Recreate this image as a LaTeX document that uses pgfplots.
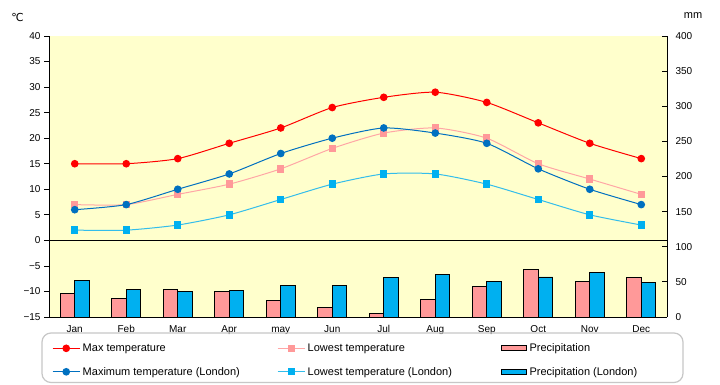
\documentclass[border=0pt]{standalone}
\usepackage{pgfplots}
\pgfplotsset{compat=1.18}
\usepackage{fontspec}
\setmainfont{Liberation Sans}
\newfontfamily\symfont{DejaVu Sans}
\definecolor{bgyellow}{HTML}{FFFFCC}
\definecolor{tred}{HTML}{FF0000}
\definecolor{tpink}{HTML}{FF9999}
\definecolor{tpinkline}{HTML}{FFA6A6}
\definecolor{lblue}{HTML}{0070C0}
\definecolor{lcyan}{HTML}{00B0F0}
\definecolor{lcyanline}{HTML}{33BDEB}
\pgfplotsset{
  lineleg/.style={legend image code/.code={\draw[mark repeat=2,mark phase=2,##1] plot coordinates {(0pt,0pt) (13.5pt,0pt) (27pt,0pt)};}},
  barleg/.style={legend image code/.code={\draw[##1] (0pt,-2.5pt) rectangle (25pt,2.5pt);}},
}
\begin{document}
\begin{tikzpicture}[x=1pt,y=1pt]
\useasboundingbox (0,0) rectangle (720,385);
\fill[white] (0,0) rectangle (720,385);
\begin{axis}[
  at={(49pt,68pt)}, anchor=south west,
  scale only axis, width=618pt, height=281pt,
  xmin=-0.5, xmax=11.5, ymin=-15, ymax=40,
  axis background/.style={fill=bgyellow},
  axis x line*=bottom, axis y line*=left,
  axis line style={black, line width=0.9pt, -},
  xtick={0,...,11},
  xticklabels={Jan,Feb,Mar,Apr,may,Jun,Jul,Aug,Sep,Oct,Nov,Dec},
  x tick style={draw=none},
  ytick={-15,-10,...,40},
  yticklabels={−15,−10,−5,0,5,10,15,20,25,30,35,40},
  y tick style={black, line width=0.8pt},
  tick align=outside, major tick length=5pt,
  tick label style={font=\fontsize{10}{12}\selectfont},
  xticklabel style={text height=1.6ex, text depth=0.4ex, yshift=1pt},
  extra y ticks={0}, extra y tick labels={},
  extra y tick style={grid=major, major grid style={black, line width=0.9pt}},
  every axis plot/.append style={tension=0.4},
]
\addplot[tred, line width=1pt, smooth, mark=*, mark size=3.3pt, mark options={fill=tred, draw=tred}]
  coordinates {(0,15)(1,15)(2,16)(3,19)(4,22)(5,26)(6,28)(7,29)(8,27)(9,23)(10,19)(11,16)};
\addplot[tpinkline, line width=1pt, smooth, mark=square*, mark size=3.2pt, mark options={fill=tpink, draw=tpink}]
  coordinates {(0,7)(1,7)(2,9)(3,11)(4,14)(5,18)(6,21)(7,22)(8,20)(9,15)(10,12)(11,9)};
\addplot[lblue, line width=1pt, smooth, mark=*, mark size=3.3pt, mark options={fill=lblue, draw=lblue}]
  coordinates {(0,6)(1,7)(2,10)(3,13)(4,17)(5,20)(6,22)(7,21)(8,19)(9,14)(10,10)(11,7)};
\addplot[lcyanline, line width=1pt, smooth, mark=square*, mark size=3.2pt, mark options={fill=lcyan, draw=lcyan}]
  coordinates {(0,2)(1,2)(2,3)(3,5)(4,8)(5,11)(6,13)(7,13)(8,11)(9,8)(10,5)(11,3)};
\end{axis}
\begin{axis}[
  at={(49pt,68pt)}, anchor=south west,
  scale only axis, width=618pt, height=281pt,
  xmin=-0.5, xmax=11.5, ymin=0, ymax=400,
  axis x line=none, axis y line*=right,
  axis line style={black, line width=0.9pt, -},
  ytick={0,50,...,400},
  /pgf/number format/assume math mode=true,
  y tick style={black, line width=0.8pt},
  tick align=inside, major tick length=5pt,
  yticklabel style={font=\fontsize{10}{12}\selectfont, xshift=5pt},
  legend columns=3, legend cell align=left,
  legend style={at={(0.0049,-0.085)}, anchor=north west, draw=none, fill=none,
    font=\fontsize{11}{13}\selectfont, inner sep=0pt, row sep=9pt, column sep=0pt,
    nodes={inner sep=2.5pt}},
]
\addlegendimage{lineleg, tred, line width=1pt, mark=*, mark size=3.3pt, mark options={fill=tred, draw=tred}}
\addlegendentry{\makebox[192pt][l]{Max temperature}}
\addlegendimage{lineleg, tpinkline, line width=1pt, mark=square*, mark size=3.2pt, mark options={fill=tpink, draw=tpink}}
\addlegendentry{\makebox[191pt][l]{Lowest temperature}}
\addplot[ybar, bar width=14.5pt, bar shift=-7.25pt, fill=tpink, draw=black, line width=0.9pt, barleg]
  coordinates {(0,33)(1,27)(2,39)(3,36)(4,23)(5,13)(6,5)(7,25)(8,43)(9,67)(10,50)(11,56)};
\addlegendentry{Precipitation}
\addlegendimage{lineleg, lblue, line width=1pt, mark=*, mark size=3.3pt, mark options={fill=lblue, draw=lblue}}
\addlegendentry{\makebox[192pt][l]{Maximum temperature (London)}}
\addlegendimage{lineleg, lcyanline, line width=1pt, mark=square*, mark size=3.2pt, mark options={fill=lcyan, draw=lcyan}}
\addlegendentry{\makebox[191pt][l]{Lowest temperature (London)}}
\addplot[ybar, bar width=14.5pt, bar shift=7.25pt, fill=lcyan, draw=black, line width=0.9pt, barleg]
  coordinates {(0,52)(1,39)(2,36)(3,38)(4,45)(5,45)(6,56)(7,60)(8,50)(9,57)(10,64)(11,49)};
\addlegendentry{Precipitation (London)}
\end{axis}
\draw[black!22, line width=1.2pt, rounded corners=9pt] (42,52) rectangle (683,2.5);
\node at (17.5,367.5) {\fontsize{11}{13}\selectfont\symfont ℃};
\node at (693,369) {\fontsize{11}{13}\selectfont mm};
\end{tikzpicture}
\end{document}
